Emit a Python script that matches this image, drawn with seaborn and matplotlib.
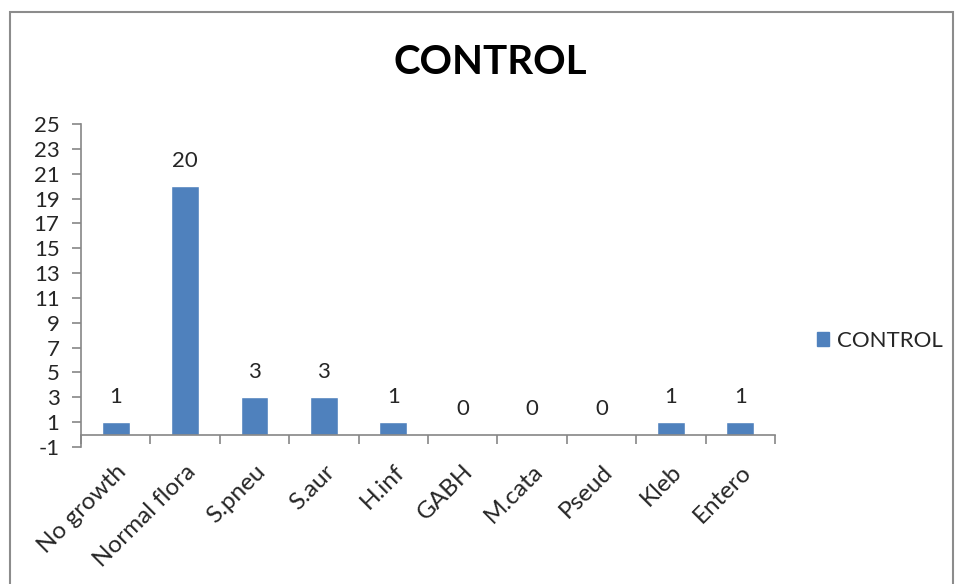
import matplotlib
matplotlib.use("Agg")
import matplotlib.pyplot as plt
import matplotlib.patches as mpatches
from matplotlib.ticker import FixedLocator
import pandas as pd
import seaborn as sns

# Culture results for the control group
categories = ["No growth", "Normal flora", "S.pneu", "S.aur", "H.inf",
              "GABH", "M.cata", "Pseud", "Kleb", "Entero"]
counts = [1, 20, 3, 3, 1, 0, 0, 0, 1, 1]
series_name = "CONTROL"
y_ticks = list(range(-1, 26, 2))

df = pd.DataFrame({"organism": categories, "count": counts,
                   "series": [series_name] * len(categories)})

sns.set_theme(style="white")
plt.rcParams["font.family"] = ["Lato", "DejaVu Sans"]

BLUE = "#4F81BD"
AXIS = "#868686"
TEXT = "#262626"
FS = 16

fig = plt.figure(figsize=(9.56, 5.84), dpi=100)
ax = fig.add_axes([81 / 956, 1 - 447 / 584, (775 - 81) / 956, (447 - 124) / 584])

sns.barplot(data=df, x="organism", y="count", hue="series",
            palette=[BLUE], saturation=1, width=0.4, ax=ax, legend=False)

ax.set_ylim(-1, 25)
ax.set_xlim(-0.5, len(categories) - 0.5)
ax.set_yticks(y_ticks)
ax.set_yticklabels([str(t) for t in y_ticks])
ax.set_xlabel("")
ax.set_ylabel("")

# category axis crosses at zero
for s in ["top", "right"]:
    ax.spines[s].set_visible(False)
ax.spines["bottom"].set_position(("data", 0))
for s in ["bottom", "left"]:
    ax.spines[s].set_color(AXIS)
    ax.spines[s].set_linewidth(1.2)

ax.tick_params(axis="y", which="major", direction="out", length=6.5, width=1.2,
               color=AXIS, labelsize=FS, labelcolor=TEXT, pad=9, left=True)
ax.tick_params(axis="x", which="major", length=0, labelsize=17.5,
               labelcolor=TEXT, pad=19)
ax.xaxis.set_minor_locator(FixedLocator([i - 0.5 for i in range(len(categories) + 1)]))
ax.tick_params(axis="x", which="minor", direction="out", length=6.5, width=1.2,
               color=AXIS, bottom=True)
plt.setp(ax.get_xticklabels(), rotation=45, ha="right", rotation_mode="anchor")

for cont in ax.containers:
    ax.bar_label(cont, labels=[str(v) for v in counts], padding=11,
                 fontsize=FS, color=TEXT)

fig.text(490 / 956, 1 - 62 / 584, series_name, ha="center", va="center",
         fontsize=29, fontweight="bold", color="black")

handle = mpatches.Patch(facecolor=BLUE, edgecolor=BLUE, label=series_name)
fig.legend(handles=[handle], loc="center left",
           bbox_to_anchor=(817 / 956, 1 - 341 / 584), frameon=False,
           borderpad=0, borderaxespad=0,
           handlelength=0.55, handleheight=0.55, handletextpad=0.35,
           fontsize=FS, labelcolor=TEXT)

fig.patches.append(mpatches.Rectangle((10 / 956, -0.1), (953 - 10) / 956,
                                      1 - 12 / 584 + 0.1, transform=fig.transFigure,
                                      fill=False, edgecolor="#8c8c8c", linewidth=1.5))

fig.savefig("out.png", dpi=100)
